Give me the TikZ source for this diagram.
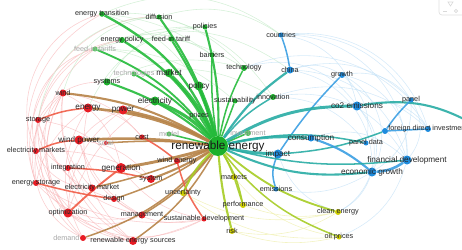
\documentclass[tikz,border=0pt]{standalone}
\usepackage{fontspec}
\setsansfont{Liberation Sans}
\usetikzlibrary{backgrounds}
\definecolor{vgreen}{RGB}{28,176,44}
\definecolor{vred}{RGB}{232,28,36}
\definecolor{vblue}{RGB}{30,140,222}
\definecolor{vyellow}{RGB}{206,206,0}
\definecolor{egreen}{RGB}{36,186,58}
\definecolor{eteal}{RGB}{40,172,164}
\definecolor{eblue}{RGB}{58,158,226}
\definecolor{ebrown}{RGB}{182,130,70}
\definecolor{ered}{RGB}{240,92,70}
\definecolor{eyellow}{RGB}{166,204,36}

\begin{document}
\begin{tikzpicture}[x=0.03cm,y=-0.03cm,font=\sffamily]
\tikzstyle{kw}=[circle,inner sep=0pt,minimum size=4.3pt]
\tikzstyle{gdot}=[kw,fill=vgreen]
\tikzstyle{rdot}=[kw,fill=vred]
\tikzstyle{bdot}=[kw,fill=vblue]
\tikzstyle{ydot}=[kw,fill=vyellow]
\tikzstyle{ls}=[font=\sffamily\fontsize{6.2}{6.2}\selectfont,text=black!85,inner sep=0pt]
\tikzstyle{lm}=[ls,font=\sffamily\fontsize{7}{7}\selectfont]
\tikzstyle{lf}=[ls,text=black!35]
\tikzstyle{eg}=[draw=egreen,line width=1.3pt,opacity=0.9]
\tikzstyle{eb}=[draw=eteal,line width=1.3pt,opacity=0.9]
\tikzstyle{ebb}=[draw=eblue,line width=1.3pt,opacity=0.9]
\tikzstyle{er}=[draw=ebrown,line width=1.3pt,opacity=0.9]
\tikzstyle{err}=[draw=ered,line width=1.3pt,opacity=0.9]
\tikzstyle{ey}=[draw=eyellow,line width=1.3pt,opacity=0.9]
\tikzstyle{fr}=[draw=vred!35,line width=0.5pt,opacity=0.6]
\tikzstyle{fg}=[draw=vgreen!30,line width=0.5pt,opacity=0.6]
\tikzstyle{fb}=[draw=vblue!30,line width=0.5pt,opacity=0.6]
\tikzstyle{fy}=[draw=vyellow!40,line width=0.5pt,opacity=0.6]
\useasboundingbox (0,0) rectangle (462,250);

% green cluster
\node[gdot,minimum size=4.7pt,label={[ls]center:energy transition}] (et) at (102,14) {};
\node[gdot,minimum size=5.1pt,label={[ls]center:energy policy}] (epol) at (122,40) {};
\node[gdot,fill=vgreen!70,label={[lf]center:feed-in tariffs}] (fits) at (95,49) {};
\node[gdot,fill=vgreen!80,label={[lf]center:technologies}] (techs) at (134,74) {};
\node[gdot,minimum size=6pt,label={[ls]center:systems}] (sys) at (107,82) {};
\node[gdot,label={[ls]center:diffusion}] (diff) at (159,17) {};
\node[gdot,label={[ls]center:policies}] (pols) at (205,27) {};
\node[gdot,label={[ls]center:feed-in tariff}] (fit) at (171,39) {};
\node[gdot,label={[ls]center:barriers}] (barr) at (212,55) {};
\node[gdot,minimum size=5.1pt,label={[ls]center:technology}] (tech) at (244,68) {};
\node[gdot,minimum size=7.2pt,label={[lm]center:market}] (mkt) at (169,73) {};
\node[gdot,minimum size=7.7pt,label={[lm]center:policy}] (pol) at (199,86) {};
\node[gdot,minimum size=7.7pt,label={[lm]center:electricity}] (elec) at (155,101) {};
\node[gdot,label={[ls]center:sustainability}] (sust) at (235,101) {};
\node[gdot,minimum size=5.1pt,label={[ls]center:innovation}] (inno) at (273,97) {};
\node[gdot,minimum size=2.5pt,label={[ls]center:prices}] (pric) at (199,116) {};
\node[gdot,fill=vgreen!80,label={[lf]center:model}] (model) at (169,134) {};
\node[gdot,fill=vgreen!80,minimum size=5.1pt,label={[lf]center:investment}] (inv) at (248,133) {};
\node[gdot,minimum size=17pt,label={[ls,font=\sffamily\fontsize{10}{10}\selectfont,text=black!90]center:renewable energy}] (re) at (218,146) {};

% blue cluster
\node[bdot,label={[ls]center:countries}] (ctry) at (281,35) {};
\node[bdot,minimum size=6pt,label={[ls]center:china}] (china) at (290,70) {};
\node[bdot,minimum size=5.1pt,label={[ls]center:growth}] (grow) at (342,75) {};
\node[bdot,minimum size=7.7pt,label={[lm]center:co2 emissions}] (co2) at (357,106) {};
\node[bdot,label={[ls]center:panel}] (panel) at (411,100) {};
\node[bdot,minimum size=6pt,label={[lm]center:consumption}] (cons) at (311,138) {};
\node[bdot,minimum size=7.7pt,label={[lm]center:impact}] (imp) at (278,154) {};
\node[bdot,label={[ls]center:emissions}] (emis) at (276,189) {};
\node[bdot,minimum size=5.1pt] (fdib) at (385,131) {};
\node[bdot,minimum size=5.1pt,label={[ls]center:foreign direct investment}] (fdi) at (428,129) {};
\node[bdot,label={[ls]center:panel data}] (pdat) at (366,143) {};
\node[bdot,minimum size=7.7pt,label={[lm]center:financial development}] (fin) at (407,160) {};
\node[bdot,minimum size=7.7pt,label={[lm]center:economic growth}] (econ) at (372,172) {};
\coordinate (east) at (480,128);

% red cluster
\node[rdot,minimum size=6pt,label={[ls]center:wind}] (wind) at (63,93) {};
\node[rdot,minimum size=7.7pt,label={[lm]center:energy}] (energy) at (88,108) {};
\node[rdot,minimum size=7.7pt,label={[lm]center:power}] (power) at (123,110) {};
\node[rdot,minimum size=5.1pt,label={[ls]center:storage}] (stor) at (38,120) {};
\node[rdot,minimum size=7.7pt,label={[lm]center:wind power}] (wpow) at (79,140) {};
\node[rdot,minimum size=3.4pt,label={[lf]center:solar}] (solar) at (106,143) {};
\node[rdot,label={[ls]center:cost}] (cost) at (142,137) {};
\node[rdot,minimum size=5.1pt,label={[ls]center:electricity markets}] (emkts) at (36,151) {};
\node[rdot,minimum size=5.1pt,label={[ls]center:integration}] (integ) at (68,168) {};
\node[rdot,minimum size=8.5pt,label={[lm]center:generation}] (gen) at (121,168) {};
\node[rdot,minimum size=6.8pt,label={[ls]center:system}] (system) at (151,179) {};
\node[rdot,minimum size=5.1pt,label={[ls]center:energy storage}] (estor) at (36,183) {};
\node[rdot,minimum size=6pt,label={[ls]center:electricity market}] (emkt) at (92,188) {};
\node[rdot,minimum size=5.1pt,label={[ls]center:design}] (design) at (114,199) {};
\node[rdot,minimum size=7.7pt,label={[ls]center:optimization}] (optim) at (68,213) {};
\node[rdot,minimum size=6pt,label={[ls]center:management}] (mgmt) at (142,215) {};
\node[rdot,minimum size=5.1pt,label={[lf,anchor=east]west:demand}] (demand) at (83,238) {};
\node[rdot,minimum size=6.8pt,label={[ls]center:renewable energy sources}] (res) at (133,241) {};
\node[rdot,minimum size=5.1pt,label={[ls]center:wind energy}] (went) at (177,161) {};
\node[rdot,label={[ls]center:sustainable development}] (sdev) at (204,219) {};

% yellow cluster
\node[ydot,minimum size=5.1pt,label={[ls]center:markets}] (mkts) at (234,177) {};
\node[ydot,minimum size=5.1pt,label={[ls]center:uncertainty}] (unc) at (183,193) {};
\node[ydot,minimum size=5.1pt,label={[ls]center:performance}] (perf) at (243,205) {};
\node[ydot,minimum size=5.1pt,label={[ls]center:risk}] (risk) at (232,231) {};
\node[ydot,minimum size=5.1pt,label={[ls]center:clean energy}] (clean) at (338,212) {};
\node[ydot,label={[ls]center:oil prices}] (oil) at (339,237) {};

% view control
\draw[black!12,line width=0.6pt,rounded corners=2.5pt] (439,-4) rectangle (466,15);
\draw[black!15,line width=0.5pt] (448,2) -- (453,2) -- (450.5,6) -- cycle;
\draw[black!15,line width=0.5pt] (443,11) -- (447,11);
\draw[black!15,line width=0.5pt] (456,11) circle[radius=1.6];

\begin{scope}[on background layer]
\clip (0,0) rectangle (462,250);
% faint links
\draw[fr] (estor) to[bend left=40] (et) (emkts) to[bend left=40] (epol) (optim) to[bend left=45] (fits);
\draw[fr] (res) to[bend left=40] (stor) (demand) to[bend left=35] (emkts) (optim) to[bend left=30] (wind);
\draw[fr] (res) to[bend left=30] (wind) (demand) to[bend left=30] (energy) (mgmt) to[bend left=30] (stor);
\draw[fr] (optim) to[bend right=30] (sdev) (estor) to[bend right=30] (mgmt) (emkts) to[bend right=35] (res);
\draw[fr] (stor) to[bend right=30] (optim) (wind) to[bend right=35] (demand) (energy) to[bend right=30] (res);
\draw[fr] (integ) to[bend left=25] (power) (emkt) to[bend left=25] (wind) (design) to[bend left=30] (stor);
\draw[fr] (stor) to[bend left=20] (gen) (emkts) to[bend left=15] (system) (estor) to[bend right=20] (sdev);
\draw[fr] (wind) to[bend left=20] (cost) (wpow) to[bend right=20] (mgmt) (integ) to[bend right=20] (res);
\draw[fr] (power) to[bend right=25] (optim) (energy) to[bend right=20] (estor) (gen) to[bend right=20] (sdev);
\draw[fr] (emkts) to[bend left=50] (et) (stor) to[bend left=30] (sys) (optim) to[bend left=20] (elec);
\draw[fr] (estor) to[bend left=30] (wind) (integ) to[bend left=35] (stor) (emkt) to[bend left=30] (emkts);
\draw[fr] (demand) to[bend left=45] (wind) (res) to[bend left=35] (integ) (mgmt) to[bend left=25] (wpow);
\draw[fr] (design) to[bend right=25] (sdev) (optim) to[bend right=25] (mgmt) (demand) to[bend right=15] (sdev);
\draw[fr] (estor) to[bend left=55] (diff) (emkts) to[bend left=45] (fits) (stor) to[bend left=35] (epol);
\draw[fr] (wpow) to[bend left=20] (system) (wind) to[bend left=25] (gen) (energy) to[bend left=20] (cost);
\draw[fg] (et) to[bend left=30] (ctry) (fits) to[bend left=25] (tech) (epol) to[bend left=25] (china);
\draw[fg] (diff) to[bend left=20] (inno) (et) to[bend left=20] (pol) (fits) to[bend left=20] (sust);
\draw[fg] (et) to[bend left=15] (barr) (epol) to[bend left=10] (pols) (sys) to[bend left=20] (tech);
\draw[fg] (fits) to[bend left=15] (mkt) (techs) to[bend left=20] (inno) (diff) to[bend left=25] (ctry);
\draw[fg] (wind) to[bend left=35] (diff) (energy) to[bend left=30] (pols) (stor) to[bend left=40] (diff);
\draw[fg] (et) to[bend left=25] (tech) (fits) to[bend left=30] (barr) (sys) to[bend left=30] (pols);
\draw[fb] (grow) to[bend left=40] (fin) (ctry) to[bend left=40] (fdi) (co2) to[bend left=30] (econ);
\draw[fb] (china) to[bend left=35] (fin) (panel) to[bend left=30] (econ) (grow) to[bend left=30] (pdat);
\draw[fb] (ctry) to[bend left=30] (panel) (inno) to[bend left=30] (fdi) (china) to[bend left=40] (econ);
\draw[fb] (tech) to[bend left=35] (co2) (ctry) to[bend left=45] (fin) (grow) to[bend left=45] (econ);
\draw[fb] (co2) to[bend left=35] (fdi) (inno) to[bend left=25] (pdat) (china) to[bend left=30] (panel);
\draw[fb] (econ) to[bend left=20] (clean) (fin) to[bend left=25] (oil) (imp) to[bend right=25] (clean);
\draw[fb] (emis) to[bend right=20] (econ) (cons) to[bend left=30] (fin) (co2) to[bend left=50] (clean);
\draw[fb] (ctry) to[bend left=35] (co2) (tech) to[bend left=40] (fdi) (inno) to[bend left=35] (fin);
\draw[fb] (china) to[bend left=25] (grow) (grow) to[bend left=30] (panel) (panel) to[bend left=35] (fin);
\draw[fy] (unc) to[bend right=20] (clean) (risk) to[bend right=15] (oil) (perf) to[bend right=15] (clean);
\draw[fy] (mkts) to[bend right=20] (oil) (unc) to[bend right=20] (oil) (risk) to[bend right=20] (clean);
% links of the green cluster
\draw[eg,line width=2pt] (et) to[bend left=20] (re);
\draw[eg,line width=2pt] (epol) to[bend left=15] (re);
\draw[eg,line width=1.6pt] (fits) to[bend left=15] (re);
\draw[eg,line width=1.8pt] (sys) to[bend left=10] (re);
\draw[eg,line width=1.6pt] (techs) to[bend left=10] (re);
\draw[eg,line width=1.8pt] (diff) to[bend left=10] (re);
\draw[eg,line width=1.8pt] (fit) to[bend left=8] (re);
\draw[eg,line width=1.8pt] (pols) to[bend left=8] (re);
\draw[eg] (barr) to[bend right=5] (re);
\draw[eg] (tech) to[bend right=8] (re);
\draw[eg,line width=2.5pt] (mkt) to[bend left=10] (re);
\draw[eg,line width=2.7pt] (pol) to[bend left=5] (re);
\draw[eg,line width=2.7pt] (elec) to[bend left=12] (re);
\draw[eg] (sust) to (re);
\draw[eb] (inno) to[bend right=10] (re);
\draw[eg] (pric) to (re);
\draw[eg] (model) to (re);
\draw[eg] (inv) to (re);
% links of the blue cluster
\draw[eb,line width=1.9pt] (china) to[bend right=10] (re);
\draw[ebb] (ctry) to[bend left=5] (china);
\draw[ebb] (grow) to[bend right=5] (imp);
\draw[eb,line width=2.5pt] (co2) to[bend right=15] (re);
\draw[eb,line width=1.8pt] (co2) to[bend left=20] (east);
\draw[ebb] (panel) to[bend right=5] (fdib);
\draw[eb] (fdib) to[bend left=8] (imp);
\draw[ebb] (fdib) to (fdi);
\draw[ebb,line width=1.8pt] (cons) to[bend left=10] (econ);
\draw[eb,line width=2.2pt] (cons) to[bend right=8] (re);
\draw[eb,line width=2.5pt] (imp) to[bend left=5] (re);
\draw[ebb] (imp) to[bend right=20] (emis);
\draw[eb,line width=1.8pt] (re) to[bend right=15] (econ);
\draw[ebb,line width=2.2pt] (econ) to[bend right=15] (fin);
\draw[eb] (re) to[bend right=10] (fin);
\draw[eb] (re) to[bend left=12] (pdat);
% links of the red cluster
\draw[er,line width=1.8pt] (wind) to[bend left=12] (re);
\draw[er,line width=2.2pt] (energy) to[bend left=10] (re);
\draw[er,line width=2.2pt] (power) to[bend left=8] (re);
\draw[err] (stor) to[bend left=8] (energy);
\draw[er,line width=2.2pt] (wpow) to[bend left=5] (re);
\draw[err] (emkts) to[bend left=10] (wpow);
\draw[er] (solar) to[bend left=5] (re);
\draw[err] (cost) to[bend left=5] (went);
\draw[er,line width=2.5pt] (gen) to[bend right=3] (re);
\draw[err] (integ) to[bend left=5] (system);
\draw[err] (estor) to[bend right=3] (design);
\draw[er] (design) to[bend right=8] (re);
\draw[err,line width=1.6pt] (optim) to[bend left=3] (gen);
\draw[er] (emkt) to[bend right=5] (re);
\draw[er,line width=1.8pt] (system) to[bend right=5] (re);
\draw[er] (mgmt) to[bend right=10] (re);
\draw[er] (res) to[bend right=12] (re);
\draw[er] (demand) to[bend right=15] (re);
\draw[err] (sdev) to[bend left=10] (went);
\draw[er] (went) to (re);
% links of the yellow cluster
\draw[ey] (re) to[bend left=5] (mkts);
\draw[ey] (mkts) to (perf);
\draw[ey] (re) to[bend left=10] (perf);
\draw[ey,line width=1.8pt] (re) to[bend right=5] (risk);
\draw[ey,line width=1.8pt] (re) to[bend right=10] (unc);
\draw[ey,line width=1.6pt] (re) to[bend right=12] (clean);
\draw[ey] (re) to[bend right=15] (oil);
\end{scope}
\end{tikzpicture}
\end{document}
